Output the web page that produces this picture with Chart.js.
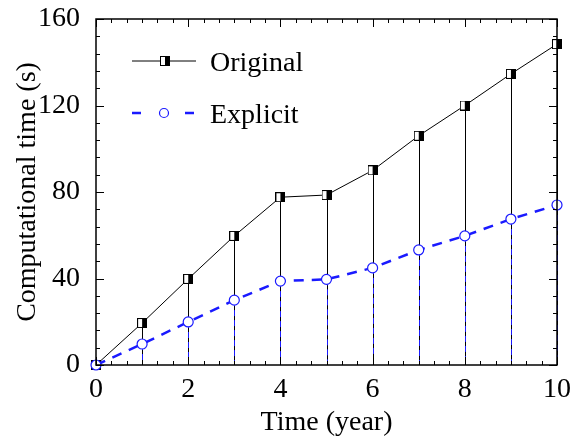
<!DOCTYPE html>
<html>
<head>
<meta charset="utf-8">
<script src="https://cdn.jsdelivr.net/npm/chart.js@4/dist/chart.umd.min.js"></script>
<style>
  html, body { margin: 0; padding: 0; background: #fff; }
  #wrap { width: 573px; height: 439px; }
</style>
</head>
<body>
<div id="wrap"><canvas id="timeChart"></canvas></div>
<script>
const years = [0, 1, 2, 3, 4, 5, 6, 7, 8, 9, 10];
const original = [0, 19.4, 39.8, 59.7, 77.6, 78.6, 90, 106, 120, 134.6, 148.4];
const explicit = [0, 9.7, 19.9, 30, 38.8, 39.6, 44.9, 53.2, 59.7, 67.5, 74];
const xTicks = [0, 2, 4, 6, 8, 10];
const yTicks = [0, 40, 80, 120, 160];

const FONT = 'Liberation Serif';
const BLUE = '#1a1aff';

// half filled square marker
function halfSquare() {
  const c = document.createElement('canvas');
  c.width = 10; c.height = 10;
  const g = c.getContext('2d');
  g.fillStyle = '#fff';
  g.fillRect(0.5, 0.5, 9, 9);
  g.fillStyle = '#000';
  g.fillRect(5, 0.5, 4.5, 9);
  g.strokeStyle = '#000';
  g.lineWidth = 1;
  g.strokeRect(0.5, 0.5, 9, 9);
  return c;
}
const squareMark = halfSquare();

const decor = {
  id: 'decor',
  beforeDatasetsDraw(chart) {
    const ctx = chart.ctx, xs = chart.scales.x, ys = chart.scales.y;
    const y0 = ys.getPixelForValue(0);
    ctx.save();
    ctx.lineWidth = 1;
    ctx.strokeStyle = '#000';
    original.forEach((v, i) => {
      const px = Math.round(xs.getPixelForValue(years[i])) + 0.5;
      ctx.beginPath();
      ctx.moveTo(px, ys.getPixelForValue(v));
      ctx.lineTo(px, y0);
      ctx.stroke();
    });
    ctx.strokeStyle = BLUE;
    ctx.setLineDash([6, 4]);
    explicit.forEach((v, i) => {
      const px = Math.round(xs.getPixelForValue(years[i])) + 0.5;
      ctx.beginPath();
      ctx.moveTo(px, ys.getPixelForValue(v));
      ctx.lineTo(px, y0);
      ctx.stroke();
    });
    ctx.restore();
  },
  afterDraw(chart) {
    const ctx = chart.ctx, a = chart.chartArea, xs = chart.scales.x, ys = chart.scales.y;
    ctx.save();
    ctx.strokeStyle = '#000';
    ctx.lineWidth = 1.5;
    ctx.strokeRect(a.left, a.top, a.right - a.left, a.bottom - a.top);
    ctx.lineWidth = 1;
    ctx.beginPath();
    // x ticks: major every 2, minor every 1/3
    for (let k = 0; k <= 30; k++) {
      const px = Math.round(xs.getPixelForValue(k / 3)) + 0.5;
      const len = k % 6 === 0 ? 8 : 4;
      ctx.moveTo(px, a.bottom); ctx.lineTo(px, a.bottom - len);
      ctx.moveTo(px, a.top); ctx.lineTo(px, a.top + len);
    }
    // y ticks: major every 40, minor every 8
    for (let v = 0; v <= 160; v += 8) {
      const py = Math.round(ys.getPixelForValue(v)) + 0.5;
      const len = v % 40 === 0 ? 8 : 4;
      ctx.moveTo(a.left, py); ctx.lineTo(a.left + len, py);
      ctx.moveTo(a.right, py); ctx.lineTo(a.right - len, py);
    }
    ctx.stroke();

    // legend
    ctx.font = '28px "' + FONT + '"';
    ctx.fillStyle = '#000';
    ctx.textBaseline = 'alphabetic';
    ctx.lineWidth = 1;
    ctx.beginPath();
    ctx.moveTo(132, 61); ctx.lineTo(196, 61);
    ctx.stroke();
    ctx.drawImage(squareMark, 160, 56);
    ctx.fillText('Original', 210, 71);

    ctx.strokeStyle = BLUE;
    ctx.lineWidth = 2.5;
    ctx.beginPath();
    ctx.moveTo(132, 113); ctx.lineTo(141, 113);
    ctx.moveTo(185, 113); ctx.lineTo(194, 113);
    ctx.stroke();
    ctx.lineWidth = 1.2;
    ctx.fillStyle = '#fff';
    ctx.beginPath();
    ctx.arc(164, 113, 4.5, 0, Math.PI * 2);
    ctx.fill(); ctx.stroke();
    ctx.fillStyle = '#000';
    ctx.fillText('Explicit', 210, 123);
    ctx.restore();
  }
};

function drawChart() {
  new Chart(document.getElementById('timeChart'), {
    type: 'line',
    data: {
      datasets: [
        {
          label: 'Original',
          data: years.map((x, i) => ({ x: x, y: original[i] })),
          borderColor: '#000',
          borderWidth: 1,
          pointStyle: squareMark,
          pointRadius: 5,
          tension: 0,
          clip: false,
          order: 2
        },
        {
          label: 'Explicit',
          data: years.map((x, i) => ({ x: x, y: explicit[i] })),
          borderColor: BLUE,
          borderWidth: 2.5,
          borderDash: [10, 8],
          pointStyle: 'circle',
          pointRadius: 5,
          pointBorderWidth: 1.2,
          pointBorderColor: BLUE,
          pointBackgroundColor: '#fff',
          tension: 0,
          clip: false,
          order: 1
        }
      ]
    },
    options: {
      responsive: true,
      maintainAspectRatio: false,
      animation: false,
      layout: { padding: { top: 19, right: 16, left: 0, bottom: 0 } },
      plugins: { legend: { display: false }, tooltip: { enabled: false } },
      scales: {
        x: {
          type: 'linear',
          min: 0, max: 10,
          afterBuildTicks: s => { s.ticks = xTicks.map(v => ({ value: v })); },
          afterFit: s => { s.height = 74; },
          grid: { display: false },
          border: { display: false },
          ticks: { color: '#000', font: { family: FONT, size: 28 }, padding: 0, maxRotation: 0 },
          title: { display: true, text: 'Time (year)', color: '#000', font: { family: FONT, size: 28 }, padding: { top: 0, bottom: 0 } }
        },
        y: {
          min: 0, max: 160,
          afterBuildTicks: s => { s.ticks = yTicks.map(v => ({ value: v })); },
          afterFit: s => { s.width = 96; },
          grid: { display: false },
          border: { display: false },
          ticks: { color: '#000', font: { family: FONT, size: 28, lineHeight: 0.75 }, padding: 8 },
          title: { display: true, text: 'Computational time (s)', color: '#000', font: { family: FONT, size: 28 }, padding: { top: 11, bottom: 0 } }
        }
      }
    },
    plugins: [decor]
  });
}

document.fonts.load('28px "' + FONT + '"').then(drawChart, drawChart);
</script>
</body>
</html>
